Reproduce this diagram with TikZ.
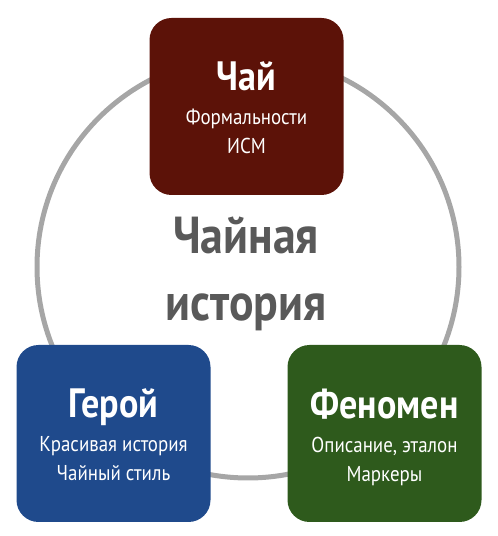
\documentclass[tikz,border=0pt]{standalone}
\usepackage{fontspec}
\setmainfont{PT Sans}
\newfontfamily\narrowfont[FakeStretch=0.88]{PT Sans}
\usetikzlibrary{positioning}

\newlength{\du}
\setlength{\du}{1pt}

\definecolor{chaicolor}{HTML}{5C1208}
\definecolor{geroicolor}{HTML}{1F4A8C}
\definecolor{fenomencolor}{HTML}{2E5A1C}
\definecolor{ringcolor}{HTML}{A6A6A6}
\definecolor{centercolor}{HTML}{595959}

\newcommand{\tiletitlefont}{\narrowfont\bfseries\fontsize{41}{44}\selectfont}

\tikzset{
  tile/.style={rounded corners=22\du, minimum width=194\du, minimum height=177\du,
    inner sep=0pt, draw=none},
  tiletext/.style={align=center, text=white, inner sep=0pt, anchor=north,
    font=\narrowfont\fontsize{21.5}{29}\selectfont},
  ring/.style={draw=ringcolor, line width=5\du},
  centertext/.style={align=center, text=centercolor, inner sep=0pt,
    font=\narrowfont\bfseries\fontsize{52}{67}\selectfont}
}

\begin{document}
\begin{tikzpicture}
\useasboundingbox (0\du,0\du) rectangle (498\du,536\du);
% ring behind the tiles
\draw[ring] (248\du,269\du) circle (211\du);
% tiles
\node[tile, fill=chaicolor] (chai) at (246.5\du,429.5\du) {};
\node[tile, fill=geroicolor] (geroi) at (113.5\du,102.5\du) {};
\node[tile, fill=fenomencolor] (fenomen) at (384.5\du,102.5\du) {};
% tile texts
\node[tiletext] (chaitext) at ([yshift=-44\du]chai.north)
  {{\tiletitlefont Чай}\\[5\du]Формальности\\ИСМ};
\node[tiletext] (geroitext) at ([yshift=-44\du]geroi.north)
  {{\tiletitlefont Герой}\\[5\du]Красивая история\\Чайный стиль};
\node[tiletext] (fenomentext) at ([yshift=-44\du]fenomen.north)
  {{\tiletitlefont Феномен}\\[5\du]Описание, эталон\\Маркеры};
% centre caption
\node[centertext] (caption) at (246\du,262\du) {Чайная\\история};
\end{tikzpicture}
\end{document}
